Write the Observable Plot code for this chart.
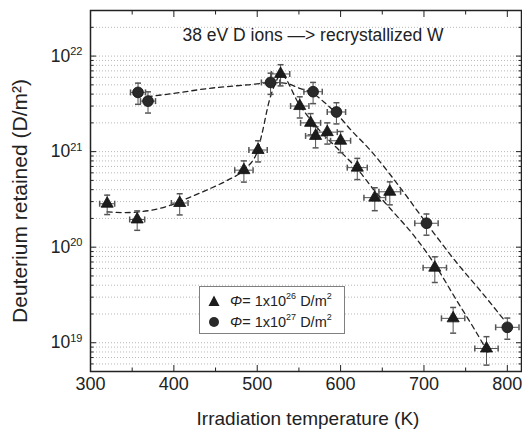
<!DOCTYPE html>
<html><head><meta charset="utf-8">
<script src="https://cdn.jsdelivr.net/npm/d3@7"></script>
<script src="https://cdn.jsdelivr.net/npm/@observablehq/plot@0.6"></script>
<style>
body{margin:0;background:#fff;}
#wrap{position:relative;width:522px;height:436px;font-family:"Liberation Sans",Arial,sans-serif;color:#222;}
#legend{position:absolute;left:199px;top:286px;width:146px;height:48px;border:1px solid #808080;background:#fff;font-size:14.5px;box-sizing:border-box;}
#legend .row{position:absolute;left:0;height:20px;width:100%;}
#legend svg{position:absolute;left:7px;top:3px;}
#legend span{position:absolute;left:30px;top:2px;white-space:nowrap;}
#legend sup{font-size:9px;vertical-align:7px;line-height:0;}
</style></head><body><div id="wrap"></div>
<script>
// ---- text ----
const titleText = "38 eV D ions —> recrystallized W";
const xLabel = "Irradiation temperature (K)";
const yLabel = "Deuterium retained (D/m²)";

// ---- ticks ----
const xTicks = [300, 400, 500, 600, 700, 800];
const xMinorTicks = [350, 450, 550, 650, 750];
const yTicks = [1e19, 1e20, 1e21, 1e22];

// ---- data: Φ = 1x10^26 D/m² (triangles) ----
const triT    = [320, 356, 407, 484, 501, 528, 551, 564, 570, 584, 600, 620, 641, 659, 713, 735, 775];
const triV    = [2.85e20, 1.95e20, 2.9e20, 6.4e20, 1.04e21, 6.5e21, 3.0e21, 2.0e21, 1.46e21, 1.6e21, 1.3e21, 6.8e20, 3.3e20, 3.8e20, 6.1e19, 1.8e19, 8.7e18];
const triXErr = [9, 9, 10, 11, 11, 11, 11, 12, 12, 12, 12, 12, 13, 13, 14, 14, 14];
const triYErr = [0.23, 0.23, 0.25, 0.25, 0.25, 0.25, 0.25, 0.25, 0.25, 0.25, 0.25, 0.25, 0.27, 0.27, 0.3, 0.3, 0.33];

// ---- data: Φ = 1x10^27 D/m² (circles) ----
const cirT    = [357, 369, 516, 567, 595, 703, 800];
const cirV    = [4.17e21, 3.38e21, 5.3e21, 4.24e21, 2.6e21, 1.78e20, 1.45e19];
const cirXErr = [9, 9, 11, 11, 11, 14, 14];
const cirYErr = [0.25, 0.25, 0.25, 0.25, 0.25, 0.25, 0.25];

// ---- dashed guide curves ----
const fit1T = [320, 340, 360, 396, 416, 440, 464, 484, 500, 506, 514, 522, 528, 550, 570, 600, 620, 640, 660, 688, 713, 740, 760, 778];
const fit1V = [2.34e20, 2.3e20, 2.35e20, 2.75e20, 3.24e20, 3.98e20, 5.0e20, 6.45e20, 1.0e21, 1.58e21, 3.3e21, 5.25e21, 6.46e21, 3.16e21, 1.86e21, 1.0e21, 6.6e20, 3.98e20, 2.51e20, 1.32e20, 6.6e19, 2.7e19, 1.41e19, 7.6e18];
const fit2T = [368, 400, 440, 488, 516, 530, 552, 567, 580, 595, 612, 635, 670, 703, 740, 770, 795];
const fit2V = [3.76e21, 4.07e21, 4.57e21, 5.0e21, 5.25e21, 5.25e21, 4.57e21, 4.07e21, 3.31e21, 2.51e21, 1.7e21, 1.05e21, 4.37e20, 1.78e20, 6.76e19, 3.31e19, 1.78e19];

// build tables
const tri = triT.map((t, i) => ({t, v: triV[i], xe: triXErr[i], ye: triYErr[i]}));
const cir = cirT.map((t, i) => ({t, v: cirV[i], xe: cirXErr[i], ye: cirYErr[i]}));
const pts = tri.concat(cir);
const fit1 = fit1T.map((t, i) => ({t, v: fit1V[i]}));
const fit2 = fit2T.map((t, i) => ({t, v: fit2V[i]}));

const yDomain = [5e18, 3e22];
const yMinor = [];
for (let k = 18; k <= 22; k++) for (let m = 2; m <= 9; m++) {
  const v = m * Math.pow(10, k);
  if (v >= yDomain[0] && v <= yDomain[1]) yMinor.push(v);
}
const yGrid = yTicks.concat(yMinor);

const hcap = {draw(ctx, size) { const w = Math.sqrt(size / Math.PI); ctx.moveTo(-w, 0); ctx.lineTo(w, 0); }};
const vcap = {draw(ctx, size) { const w = Math.sqrt(size / Math.PI); ctx.moveTo(0, -w); ctx.lineTo(0, w); }};
const errColor = "#555";
const noFmt = () => "";

const svg = Plot.plot({
  width: 522, height: 436,
  marginLeft: 90, marginRight: 1, marginTop: 10, marginBottom: 65,
  style: {fontFamily: "Liberation Sans, Arial, sans-serif", fontSize: "17px", color: "#222", background: "white", overflow: "visible"},
  x: {domain: [300, 817]},
  y: {type: "log", domain: yDomain},
  marks: [
    Plot.ruleY(yGrid, {y: d => d, stroke: "#b0b0b0", strokeDasharray: "1,2", strokeWidth: 0.9}),
    Plot.line(fit1, {x: "t", y: "v", curve: "monotone-x", stroke: "#222", strokeWidth: 1.3, strokeDasharray: "5,4"}),
    Plot.line(fit2, {x: "t", y: "v", curve: "monotone-x", stroke: "#222", strokeWidth: 1.3, strokeDasharray: "5,4"}),
    Plot.ruleX(pts, {x: "t", y1: d => d.v * (1 - d.ye), y2: d => d.v * (1 + d.ye), stroke: errColor, strokeWidth: 1}),
    Plot.ruleY(pts, {y: "v", x1: d => d.t - d.xe, x2: d => d.t + d.xe, stroke: errColor, strokeWidth: 1}),
    Plot.dot(pts, {x: "t", y: d => d.v * (1 + d.ye), symbol: hcap, r: 3, stroke: errColor, fill: "none"}),
    Plot.dot(pts, {x: "t", y: d => d.v * (1 - d.ye), symbol: hcap, r: 3, stroke: errColor, fill: "none"}),
    Plot.dot(pts, {x: d => d.t - d.xe, y: "v", symbol: vcap, r: 3, stroke: errColor, fill: "none"}),
    Plot.dot(pts, {x: d => d.t + d.xe, y: "v", symbol: vcap, r: 3, stroke: errColor, fill: "none"}),
    Plot.dot(tri, {x: "t", y: "v", symbol: "triangle", r: 4.5, fill: "#1c1c1c", stroke: "#111", strokeWidth: 0.8}),
    Plot.dot(cir, {x: "t", y: "v", r: 5.4, fill: "#2a2a2a", stroke: "#111", strokeWidth: 0.8}),
    Plot.frame({stroke: "#222", strokeWidth: 1.5}),
    // x axis labels & ticks (inside)
    Plot.axisX(xTicks, {anchor: "bottom", tickSize: 0, tickPadding: 6, fontSize: 18, label: null}),
    Plot.axisX(xTicks, {anchor: "bottom", tickSize: 6, dy: -6, tickFormat: noFmt, label: null}),
    Plot.axisX(xMinorTicks, {anchor: "bottom", tickSize: 3.5, dy: -3.5, tickFormat: noFmt, label: null}),
    Plot.axisX(xTicks, {anchor: "top", tickSize: 6, dy: 6, tickFormat: noFmt, label: null}),
    Plot.axisX(xMinorTicks, {anchor: "top", tickSize: 3.5, dy: 3.5, tickFormat: noFmt, label: null}),
    // y axis labels & ticks (inside)
    Plot.axisY(yTicks, {anchor: "left", tickSize: 0, tickPadding: 8, fontSize: 17.5, tickFormat: d => "10^" + Math.round(Math.log10(d)), label: null}),
    Plot.axisY(yTicks, {anchor: "left", tickSize: 6, dx: 6, tickFormat: noFmt, label: null}),
    Plot.axisY(yMinor, {anchor: "left", tickSize: 3.5, dx: 3.5, tickFormat: noFmt, label: null}),
    Plot.axisY(yTicks, {anchor: "right", tickSize: 6, dx: -6, tickFormat: noFmt, label: null}),
    Plot.axisY(yMinor, {anchor: "right", tickSize: 3.5, dx: -3.5, tickFormat: noFmt, label: null}),
    // texts
    Plot.text([titleText], {frameAnchor: "top", dx: 7, dy: 25, fontSize: 17.5, fill: "#222", lineAnchor: "middle", textAnchor: "middle"}),
    Plot.text([xLabel], {frameAnchor: "bottom", dx: 2, dy: 47, fontSize: 19, fill: "#222", lineAnchor: "middle", textAnchor: "middle"}),
    Plot.text([yLabel], {frameAnchor: "left", dx: -70, dy: 10, rotate: -90, fontSize: 21, fill: "#222", lineAnchor: "middle", textAnchor: "middle"})
  ]
});

// superscript exponents on y tick labels
d3.select(svg).selectAll('g[aria-label="y-axis tick label"] text').each(function () {
  const m = this.textContent.match(/^10\^(\d+)$/);
  if (m) {
    const t = d3.select(this);
    t.text("10");
    t.append("tspan").attr("dy", "-0.6em").attr("font-size", "11px").text(m[1]);
  }
});

const wrap = document.getElementById("wrap");
wrap.appendChild(svg);

// legend
const legend = document.createElement("div");
legend.id = "legend";
legend.innerHTML =
  '<div class="row" style="top:4px"><svg width="14" height="14"><path d="M7,1.5 L12.5,12 L1.5,12 Z" fill="#1c1c1c"/></svg>' +
  '<span><i>Φ</i>= 1x10<sup>26</sup> D/m<sup>2</sup></span></div>' +
  '<div class="row" style="top:25px"><svg width="14" height="14"><circle cx="7" cy="7" r="5" fill="#2a2a2a"/></svg>' +
  '<span><i>Φ</i>= 1x10<sup>27</sup> D/m<sup>2</sup></span></div>';
wrap.appendChild(legend);
</script>
</body></html>
